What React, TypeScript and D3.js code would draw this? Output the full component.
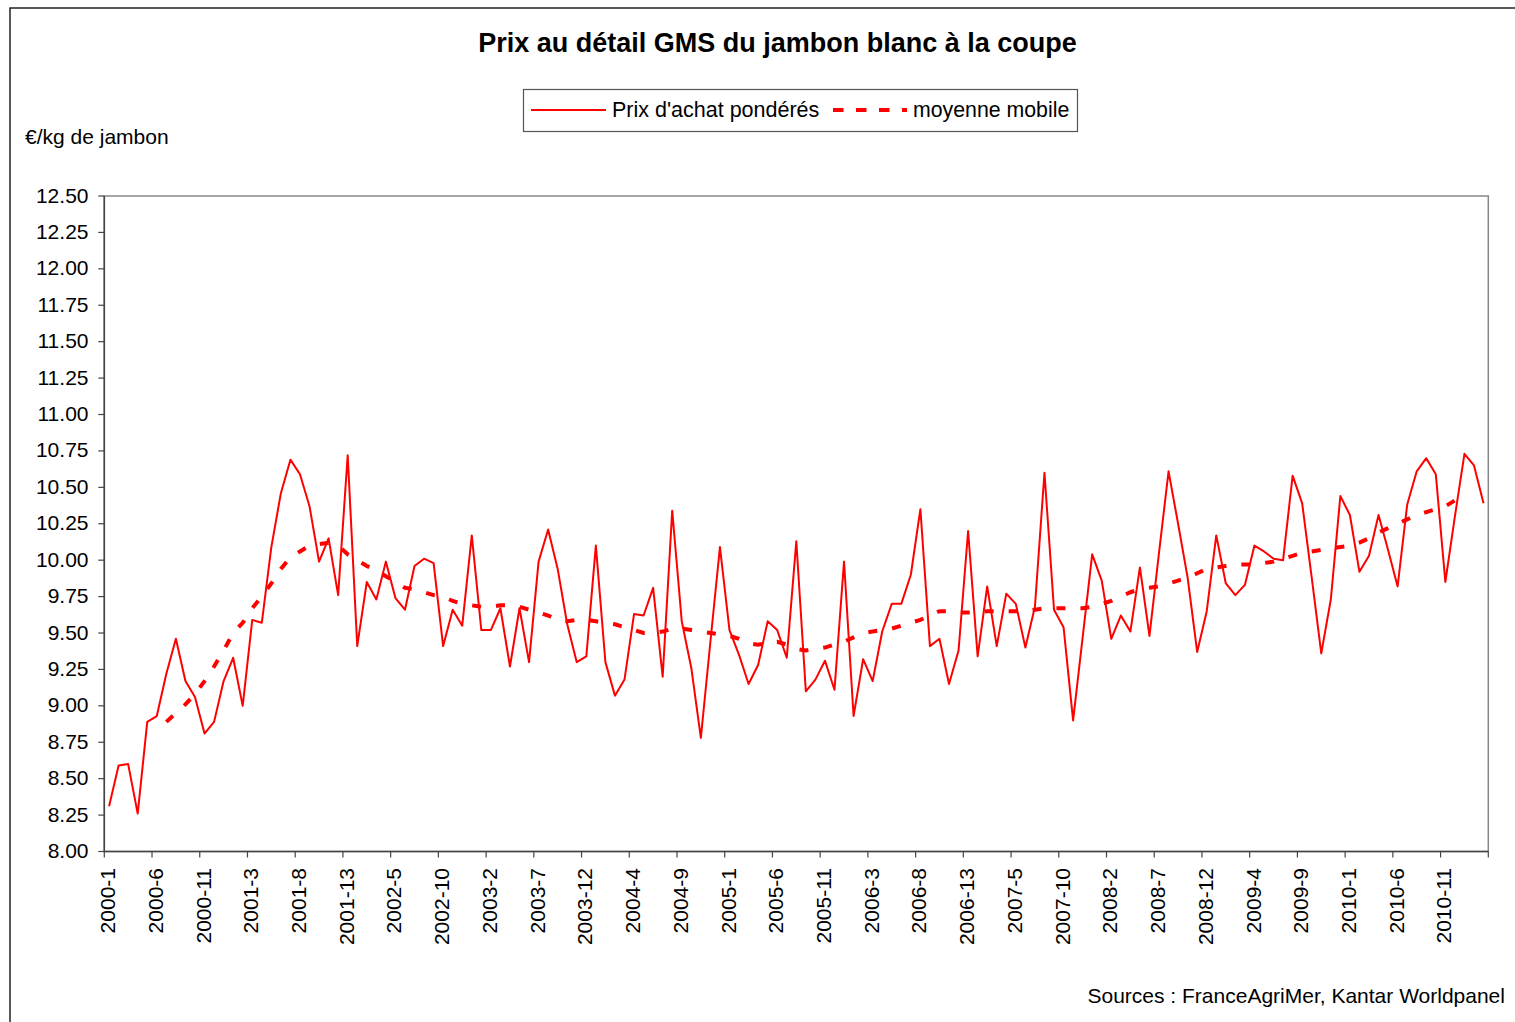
import React from 'react';
import * as d3 from 'd3';

// 4-week periods, 13 per year, from 2000-1 to 2011-2
const years = [2000, 2001, 2002, 2003, 2004, 2005, 2006, 2007, 2008, 2009, 2010, 2011];
const periodsPerYear = 13;
const lastPeriod = '2011-2';

const categories: string[] = [];
for (const y of years) {
    for (let p = 1; p <= periodsPerYear; p++) {
        categories.push(`${y}-${p}`);
        if (`${y}-${p}` === lastPeriod) break;
    }
}

// Prix d'achat pondérés (€/kg)
const prices = [
    8.31, 8.59, 8.60, 8.26, 8.89, 8.93, 9.22, 9.46, 9.17, 9.06, 8.81, 8.89, 9.17,
    9.33, 9.00, 9.59, 9.57, 10.09, 10.46, 10.69, 10.59, 10.37, 9.99, 10.15, 9.76, 10.72,
    9.41, 9.85, 9.73, 9.99, 9.74, 9.66, 9.96, 10.01, 9.98, 9.41, 9.66, 9.55, 10.17,
    9.52, 9.52, 9.67, 9.27, 9.67, 9.30, 9.99, 10.21, 9.94, 9.56, 9.30, 9.34, 10.10,
    9.30, 9.07, 9.18, 9.63, 9.62, 9.81, 9.20, 10.34, 9.58, 9.26, 8.78, 9.44, 10.09,
    9.52, 9.35, 9.15, 9.28, 9.58, 9.52, 9.33, 10.13, 9.10, 9.18, 9.31, 9.11, 9.99,
    8.93, 9.32, 9.17, 9.51, 9.70, 9.70, 9.90, 10.35, 9.41, 9.46, 9.15, 9.38, 10.20,
    9.34, 9.82, 9.41, 9.77, 9.70, 9.40, 9.68, 10.60, 9.66, 9.54, 8.90, 9.47, 10.04,
    9.86, 9.46, 9.62, 9.51, 9.95, 9.48, 10.05, 10.61, 10.25, 9.88, 9.37, 9.65, 10.17,
    9.84, 9.76, 9.83, 10.10, 10.06, 10.01, 10.00, 10.58, 10.39, 9.88, 9.36, 9.73, 10.44,
    10.31, 9.92, 10.03, 10.31, 10.07, 9.82, 10.38, 10.61, 10.70, 10.59, 9.85, 10.30,
    10.73, 10.65, 10.39
];

// moyenne mobile (no value for the first 6 and last 2 periods)
const movingAvg: (number | null)[] = [
    null, null, null, null, null, null,
    8.89, 8.95, 9.01, 9.08, 9.17, 9.27, 9.38, 9.50, 9.57, 9.67, 9.75, 9.84, 9.94,
    10.02, 10.06, 10.10, 10.11, 10.12, 10.10, 10.04, 10.00, 9.96, 9.93, 9.89, 9.85,
    9.81, 9.80, 9.78, 9.76, 9.75, 9.72, 9.70, 9.69, 9.68, 9.68, 9.69, 9.69, 9.68,
    9.66, 9.64, 9.62, 9.59, 9.58, 9.59, 9.59, 9.58, 9.57, 9.56, 9.54, 9.52, 9.50,
    9.50, 9.51, 9.53, 9.53, 9.52, 9.51, 9.50, 9.49, 9.48, 9.46, 9.43, 9.42, 9.43,
    9.44, 9.42, 9.39, 9.38, 9.39, 9.40, 9.42, 9.44, 9.47, 9.50, 9.51, 9.52, 9.53,
    9.55, 9.57, 9.59, 9.62, 9.65, 9.65, 9.64, 9.64, 9.64, 9.65, 9.65, 9.65, 9.65,
    9.65, 9.66, 9.67, 9.67, 9.67, 9.67, 9.67, 9.68, 9.70, 9.72, 9.75, 9.78, 9.80,
    9.81, 9.82, 9.84, 9.86, 9.88, 9.91, 9.94, 9.95, 9.96, 9.97, 9.97, 9.97, 9.98,
    9.99, 10.01, 10.03, 10.05, 10.06, 10.07, 10.08, 10.09, 10.10, 10.12, 10.15, 10.19,
    10.22, 10.25, 10.28, 10.31, 10.33, 10.35, 10.37, 10.41, 10.46,
    null, null
];

const yTicks = [8, 8.25, 8.5, 8.75, 9, 9.25, 9.5, 9.75, 10, 10.25, 10.5, 10.75, 11, 11.25, 11.5, 11.75, 12, 12.25, 12.5];
const labelEvery = 5;

const title = 'Prix au détail GMS du jambon blanc à la coupe';
const seriesNames = ["Prix d'achat pondérés", 'moyenne mobile'];
const unitLabel = '€/kg de jambon';
const sourceLabel = 'Sources : FranceAgriMer, Kantar Worldpanel';

const W = 1515, H = 1022;
const plot = { left: 104.3, right: 1488.3, top: 196, bottom: 851.5 };
const font = '"Liberation Sans", Arial, sans-serif';
const red = '#ff0000';

export default function App() {
    const x = d3.scaleBand().domain(categories).range([plot.left, plot.right]).padding(0);
    const y = d3.scaleLinear().domain([8, 12.5]).range([plot.bottom, plot.top]);
    const cx = (c: string) => (x(c) as number) + x.bandwidth() / 2;

    const priceLine = d3.line<number>()
        .x((d, i) => cx(categories[i]))
        .y(d => y(d));
    const maLine = d3.line<number | null>()
        .defined(d => d != null)
        .x((d, i) => cx(categories[i]))
        .y(d => y(d as number));

    const tickCats = categories.filter((c, i) => i % labelEvery === 0);

    return (
        <svg width={W} height={H} style={{ position: 'absolute', left: 0, top: 0, background: '#fff' }}
             fontFamily={font}>
            {/* chart area border */}
            <rect x={10} y={8} width={W} height={H} fill="#fff" stroke="#222" strokeWidth={1.5} />

            <text x={777.5} y={52} textAnchor="middle" fontSize={27} fontWeight="bold" fill="#000">{title}</text>

            {/* legend */}
            <g>
                <rect x={523.5} y={89.5} width={554} height={42} fill="#fff" stroke="#555" strokeWidth={1.2} />
                <line x1={531} x2={606} y1={110} y2={110} stroke={red} strokeWidth={2} />
                <text x={612} y={116.5} fontSize={21.5} fill="#000">{seriesNames[0]}</text>
                <line x1={833} x2={907} y1={110} y2={110} stroke={red} strokeWidth={4} strokeDasharray="10.5 12.5" />
                <text x={913} y={116.5} fontSize={21.3} fill="#000">{seriesNames[1]}</text>
            </g>

            <text x={25} y={143.5} fontSize={21} fill="#000">{unitLabel}</text>

            {/* plot area */}
            <rect x={plot.left} y={plot.top} width={plot.right - plot.left} height={plot.bottom - plot.top}
                  fill="none" stroke="#888" strokeWidth={1.5} />

            {/* y axis */}
            <line x1={plot.left} x2={plot.left} y1={plot.top} y2={plot.bottom} stroke="#444" strokeWidth={1.5} />
            {yTicks.map(t => (
                <g key={t}>
                    <line x1={plot.left - 6} x2={plot.left} y1={y(t)} y2={y(t)} stroke="#444" strokeWidth={1.2} />
                    <text x={88.5} y={y(t) - 1} dy="0.36em" textAnchor="end" fontSize={21} fill="#000">{t.toFixed(2)}</text>
                </g>
            ))}

            {/* x axis */}
            <line x1={plot.left} x2={plot.right} y1={plot.bottom} y2={plot.bottom} stroke="#444" strokeWidth={1.5} />
            {categories.map((c, i) => i % labelEvery === 0 ? (
                <line key={c} x1={x(c)} x2={x(c)} y1={plot.bottom} y2={plot.bottom + 6} stroke="#444" strokeWidth={1.2} />
            ) : null)}
            <line x1={plot.right} x2={plot.right} y1={plot.bottom} y2={plot.bottom + 6} stroke="#444" strokeWidth={1.2} />
            {tickCats.map(c => (
                <text key={c} transform={`translate(${cx(c) - 1.5},868) rotate(-90)`} dy="0.36em"
                      textAnchor="end" fontSize={21} fill="#000">{c}</text>
            ))}

            {/* series */}
            <path d={priceLine(prices) || ''} fill="none" stroke={red} strokeWidth={2} strokeLinejoin="round" />
            <path d={maLine(movingAvg) || ''} fill="none" stroke={red} strokeWidth={4} strokeDasharray="9 15" />

            <text x={1087.5} y={1003} fontSize={21} fill="#000">{sourceLabel}</text>
        </svg>
    );
}
